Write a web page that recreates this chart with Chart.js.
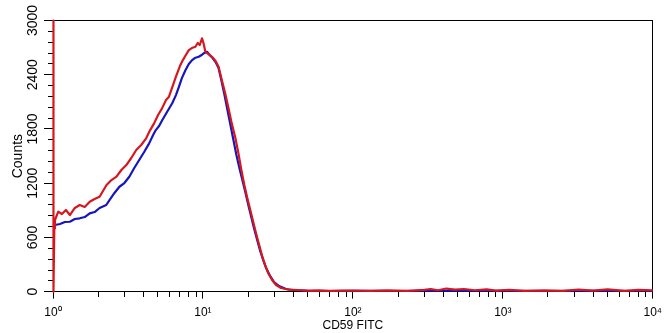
<!DOCTYPE html>
<html>
<head>
<meta charset="utf-8">
<script src="https://cdn.jsdelivr.net/npm/chart.js@4"></script>
<style>
html,body{margin:0;padding:0;background:#fff;}
canvas{display:block;}
</style>
</head>
<body>
<canvas id="c" width="669" height="333"></canvas>
<script>
// ---- data ----
const redX = [1, 1, 1.004, 1.006, 1.012, 1.014, 1.02, 1.031, 1.084, 1.147, 1.219, 1.296, 1.398, 1.508, 1.627, 1.757, 1.895, 2.045, 2.174, 2.275, 2.455, 2.649, 2.858, 3.083, 3.327, 3.59, 3.874, 4.18, 4.446, 4.725, 5.021, 5.337, 5.672, 5.937, 6.214, 6.607, 7.022, 7.35, 7.69, 8.05, 8.43, 8.91, 9.23, 9.52, 9.86, 10.12, 10.38, 10.91, 11.48, 12.14, 12.71, 13.36, 14.07, 14.8, 15.56, 16.46, 17.24, 18.04, 18.88, 19.76, 20.69, 21.65, 22.67, 23.72, 24.83, 25.99, 27.2, 28.92, 30.74, 33.17, 36.89, 42.96, 50, 60, 70, 85, 100, 130, 170, 230, 300, 330, 370, 420, 480, 550, 650, 780, 900, 1100, 1400, 1900, 2500, 3200, 4000, 5000, 6500, 8000, 10000];
const redY = [0, 3000, 3000, 1880, 1880, 0, 700, 793, 885, 859, 904, 848, 926, 959, 937, 995, 1025, 1051, 1125, 1180, 1235, 1272, 1346, 1401, 1479, 1567, 1623, 1697, 1788, 1862, 1954, 2028, 2120, 2157, 2253, 2378, 2496, 2562, 2618, 2673, 2695, 2710, 2751, 2729, 2803, 2740, 2654, 2629, 2599, 2552, 2489, 2341, 2194, 2032, 1862, 1700, 1531, 1346, 1180, 1036, 904, 771, 638, 516, 395, 295, 207, 129, 74, 41, 24, 19, 12, 14, 9, 11, 13, 10, 15, 9, 20, 30, 16, 35, 22, 30, 16, 25, 12, 20, 9, 15, 10, 22, 12, 25, 10, 20, 15];
const blueX = [1, 1.031, 1.112, 1.2, 1.296, 1.398, 1.508, 1.627, 1.757, 1.895, 2.045, 2.265, 2.381, 2.57, 2.773, 2.992, 3.228, 3.483, 3.758, 4.055, 4.377, 4.653, 4.85, 5.1, 5.36, 5.76, 6.24, 6.607, 6.914, 7.236, 7.656, 8.05, 8.465, 8.82, 9.37, 9.81, 10.12, 10.64, 11.08, 11.6, 12.14, 12.71, 13.3, 13.93, 14.57, 15.26, 15.97, 16.72, 17.5, 18.32, 19.17, 20.07, 21.0, 21.98, 23.0, 24.09, 25.21, 26.39, 28.05, 29.8, 32.17, 35.8, 39.8, 50, 70, 100, 200, 400, 700, 1000, 2000, 4000, 10000];
const blueY = [738, 738, 749, 771, 774, 804, 812, 826, 867, 881, 926, 959, 1014, 1092, 1161, 1202, 1272, 1368, 1457, 1545, 1641, 1733, 1788, 1833, 1899, 1988, 2084, 2175, 2267, 2363, 2452, 2518, 2562, 2585, 2599, 2618, 2637, 2654, 2618, 2585, 2540, 2474, 2330, 2175, 2010, 1844, 1678, 1512, 1368, 1235, 1103, 959, 826, 693, 572, 450, 351, 262, 174, 107, 63, 30, 19, 10, 8, 9, 7, 10, 8, 9, 7, 9, 8];
const xMajorTicks = [1, 10, 100, 1000, 10000];
const xMajorLabels = ['10\u2070', '10\u00B9', '10\u00B2', '10\u00B3', '10\u2074'];
const xMinorTicks = [2,3,4,5,6,7,8,9,20,30,40,50,60,70,80,90,200,300,400,500,600,700,800,900,2000,3000,4000,5000,6000,7000,8000,9000];
const yMajorTicks = [0, 600, 1200, 1800, 2400, 3000];
const yMinorTicks = [120,240,360,480,720,840,960,1080,1320,1440,1560,1680,1920,2040,2160,2280,2520,2640,2760,2880];
const xTitle = 'CD59 FITC';
const yTitle = 'Counts';

// ---- chart ----
const toPts = (xs, ys) => xs.map((x, i) => ({x: x, y: ys[i]}));
const FONT = "'Liberation Sans', Arial, sans-serif";
const setTicks = (arr) => (scale) => { scale.ticks = arr.map(v => ({value: v})); };

new Chart(document.getElementById('c'), {
  type: 'line',
  data: {
    datasets: [
      {label: 'red', data: toPts(redX, redY), borderColor: 'rgb(214,24,30)', borderWidth: 2.2, pointRadius: 0, tension: 0, borderJoinStyle: 'round', clip: 3},
      {label: 'blue', data: toPts(blueX, blueY), borderColor: 'rgb(22,22,190)', borderWidth: 2.2, pointRadius: 0, tension: 0, borderJoinStyle: 'round'}
    ]
  },
  options: {
    responsive: false,
    animation: false,
    events: [],
    layout: {padding: {top: 20.5, right: 12, left: 0, bottom: 0}},
    plugins: {legend: {display: false}, tooltip: {enabled: false}},
    scales: {
      x: {
        type: 'logarithmic', position: 'bottom', min: 1, max: 10000,
        afterBuildTicks: setTicks(xMajorTicks),
        afterFit: (s) => { s.height = 41.3; },
        grid: {drawOnChartArea: false, drawTicks: true, tickLength: 7, color: '#000'},
        border: {display: true, color: '#000', width: 1},
        ticks: {autoSkip: false, maxRotation: 0, minRotation: 0, padding: 7, color: '#000',
          font: {family: FONT, size: 12},
          callback: (v) => { const i = xMajorTicks.indexOf(v); return i >= 0 ? xMajorLabels[i] : ''; }},
        title: {display: true, text: xTitle, color: '#000', font: {family: FONT, size: 12}, padding: {top: 0, bottom: 0}}
      },
      xMinor: {
        type: 'logarithmic', axis: 'x', position: {y: 0}, min: 1, max: 10000,
        afterBuildTicks: setTicks(xMinorTicks),
        grid: {drawOnChartArea: false, drawTicks: true, tickLength: 5, color: '#000'},
        border: {display: false},
        ticks: {display: false}
      },
      xTop: {
        type: 'linear', axis: 'x', position: 'top', min: 0, max: 1,
        afterFit: (s) => { s.height = 0; },
        grid: {display: false, drawTicks: false},
        border: {display: true, color: '#000', width: 1},
        ticks: {display: false}
      },
      y: {
        type: 'linear', position: 'left', min: 0, max: 3000,
        afterBuildTicks: setTicks(yMajorTicks),
        afterFit: (s) => { s.width = 53; },
        grid: {drawOnChartArea: false, drawTicks: true, tickLength: 9, color: '#000'},
        border: {display: true, color: '#000', width: 1},
        ticks: {minRotation: 90, maxRotation: 90, crossAlign: 'center', padding: -5, color: '#000',
          font: {family: FONT, size: 14}, callback: (v) => String(v)},
        title: {display: true, text: yTitle, color: '#000', font: {family: FONT, size: 14}, padding: {top: 10, bottom: 0}}
      },
      yMinor: {
        type: 'linear', axis: 'y', position: {x: 1}, min: 0, max: 3000,
        afterBuildTicks: setTicks(yMinorTicks),
        grid: {drawOnChartArea: false, drawTicks: true, tickLength: 5, color: '#000'},
        border: {display: false},
        ticks: {display: false}
      },
      yRight: {
        type: 'linear', axis: 'y', position: 'right', min: 0, max: 1,
        afterFit: (s) => { s.width = 0; },
        grid: {display: false, drawTicks: false},
        border: {display: true, color: '#000', width: 1},
        ticks: {display: false}
      }
    }
  }
});
</script>
</body>
</html>
